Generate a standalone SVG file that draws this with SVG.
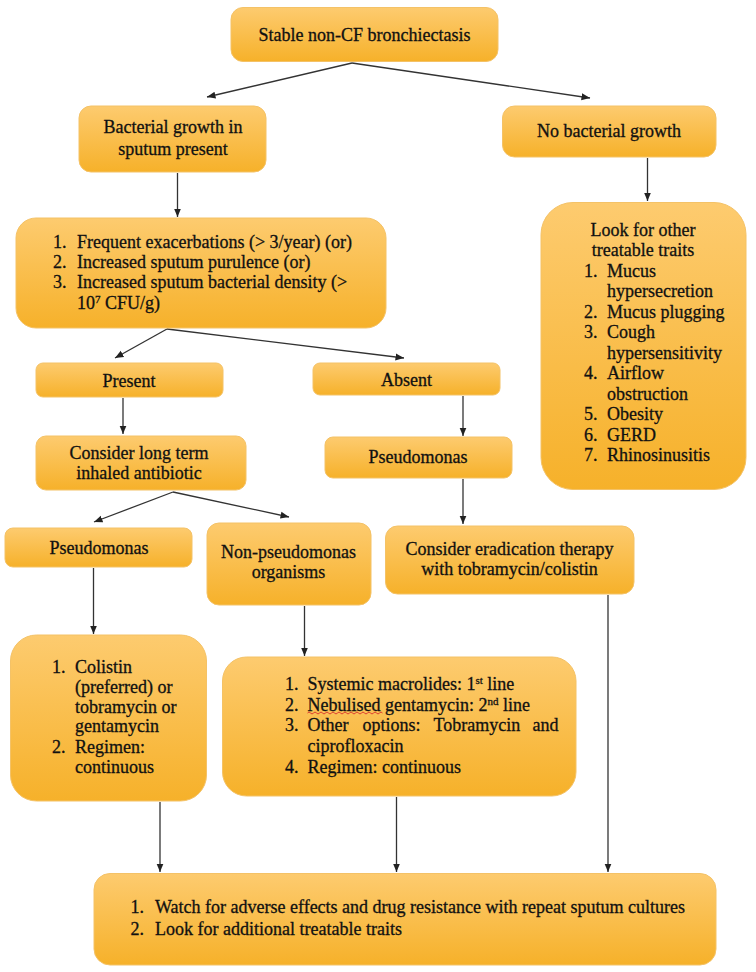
<svg xmlns="http://www.w3.org/2000/svg" width="756" height="972" viewBox="0 0 756 972">
<defs>
<linearGradient id="g" x1="0" y1="0" x2="0" y2="1">
<stop offset="0" stop-color="#FDCB6F"/>
<stop offset="1" stop-color="#F6B12A"/>
</linearGradient>
<marker id="ah" markerUnits="userSpaceOnUse" markerWidth="9" markerHeight="8" refX="8.5" refY="4" orient="auto">
<path d="M0,0.5 L8.5,4 L0,7.5 z" fill="#222"/>
</marker>
<style>
.box{fill:url(#g);stroke:#F4C267;stroke-width:1}
text{font-family:"Liberation Serif","Times New Roman",serif;font-size:18px;fill:#111;stroke:#111;stroke-width:0.3}
.c{text-anchor:middle}
.sup{font-size:11px}
.conn line{stroke:#333;stroke-width:1.3;marker-end:url(#ah)}
</style>
</defs>
<rect width="756" height="972" fill="#fff"/>

<g id="connectors" class="conn">
<line x1="352" y1="63" x2="207" y2="97"/>
<line x1="352" y1="63" x2="590" y2="98"/>
<line x1="177.5" y1="173" x2="177.5" y2="217"/>
<line x1="647.5" y1="158" x2="647.5" y2="201"/>
<line x1="167" y1="329" x2="115" y2="358"/>
<line x1="167" y1="329" x2="404" y2="358"/>
<line x1="123" y1="398" x2="123" y2="434"/>
<line x1="463" y1="396" x2="463" y2="436"/>
<line x1="173" y1="492" x2="94" y2="522"/>
<line x1="173" y1="492" x2="289" y2="517"/>
<line x1="463" y1="479" x2="463" y2="524"/>
<line x1="93.5" y1="568" x2="93.5" y2="634"/>
<line x1="304.5" y1="606" x2="304.5" y2="656"/>
<line x1="160" y1="802" x2="160" y2="872"/>
<line x1="396.5" y1="797" x2="396.5" y2="872"/>
<line x1="608" y1="595" x2="608" y2="872"/>
</g>

<g id="n-start">
<rect class="box" x="231" y="7.5" width="267" height="54" rx="12"/>
<text class="c" x="364.5" y="40.5">Stable non-CF bronchiectasis</text>
</g>

<g id="n-bacterial">
<rect class="box" x="79" y="106" width="187" height="66" rx="12"/>
<text class="c" x="173" y="133">Bacterial growth in</text>
<text class="c" x="173" y="155">sputum present</text>
</g>

<g id="n-nobacterial">
<rect class="box" x="502.5" y="106" width="213.5" height="51" rx="12"/>
<text class="c" x="609" y="137">No bacterial growth</text>
</g>

<g id="n-criteria">
<rect class="box" x="16" y="218" width="370" height="110" rx="20"/>
<text x="53" y="248">1.</text><text x="77" y="248">Frequent exacerbations (&gt; 3/year) (or)</text>
<text x="53" y="268">2.</text><text x="77" y="268">Increased sputum purulence (or)</text>
<text x="53" y="288">3.</text><text x="77" y="288">Increased sputum bacterial density (&gt;</text>
<text x="77" y="308.5">10<tspan class="sup" dy="-6">7</tspan><tspan dy="6"> CFU/g)</tspan></text>
</g>

<g id="n-traits">
<rect class="box" x="541" y="202.5" width="205" height="287" rx="32"/>
<text class="c" x="643" y="235.5">Look for other</text>
<text class="c" x="643" y="256">treatable traits</text>
<text x="584" y="276.5">1.</text><text x="607" y="276.5">Mucus</text>
<text x="607" y="297">hypersecretion</text>
<text x="584" y="317.5">2.</text><text x="607" y="317.5">Mucus plugging</text>
<text x="584" y="338">3.</text><text x="607" y="338">Cough</text>
<text x="607" y="358.5">hypersensitivity</text>
<text x="584" y="379">4.</text><text x="607" y="379">Airflow</text>
<text x="607" y="399.5">obstruction</text>
<text x="584" y="420">5.</text><text x="607" y="420">Obesity</text>
<text x="584" y="440.5">6.</text><text x="607" y="440.5">GERD</text>
<text x="584" y="461">7.</text><text x="607" y="461">Rhinosinusitis</text>
</g>

<g id="n-present">
<rect class="box" x="36" y="363" width="187" height="34" rx="7"/>
<text class="c" x="129" y="386.5">Present</text>
</g>

<g id="n-absent">
<rect class="box" x="313" y="363" width="187" height="32" rx="7"/>
<text class="c" x="406.5" y="386">Absent</text>
</g>

<g id="n-longterm">
<rect class="box" x="36" y="436" width="210" height="54" rx="10"/>
<text class="c" x="139" y="459">Consider long term</text>
<text class="c" x="139" y="479">inhaled antibiotic</text>
</g>

<g id="n-pseudo-r">
<rect class="box" x="325" y="437" width="187" height="41" rx="8"/>
<text class="c" x="418" y="463">Pseudomonas</text>
</g>

<g id="n-pseudo-l">
<rect class="box" x="5" y="528" width="187" height="39" rx="8"/>
<text class="c" x="99" y="554">Pseudomonas</text>
</g>

<g id="n-nonpseudo">
<rect class="box" x="207" y="523" width="164" height="82" rx="12"/>
<text class="c" x="288.5" y="558">Non-pseudomonas</text>
<text class="c" x="288.5" y="578">organisms</text>
</g>

<g id="n-eradication">
<rect class="box" x="385.5" y="526" width="248.5" height="68" rx="12"/>
<text class="c" x="509.5" y="555">Consider eradication therapy</text>
<text class="c" x="509.5" y="575">with tobramycin/colistin</text>
</g>

<g id="n-colistin">
<rect class="box" x="10.5" y="635" width="196" height="166" rx="26"/>
<text x="52" y="672.5">1.</text><text x="75" y="672.5">Colistin</text>
<text x="75" y="692.5">(preferred) or</text>
<text x="75" y="712.5">tobramycin or</text>
<text x="75" y="732">gentamycin</text>
<text x="52" y="753">2.</text><text x="75" y="753">Regimen:</text>
<text x="75" y="773">continuous</text>
</g>

<g id="n-macrolides">
<rect class="box" x="222.5" y="657" width="353.5" height="139" rx="24"/>
<text x="285" y="690">1.</text><text x="307.5" y="690">Systemic macrolides: 1<tspan class="sup" dy="-6">st</tspan><tspan dy="6"> line</tspan></text>
<text x="285" y="710.5">2.</text><text x="307.5" y="710.5">Nebulised gentamycin: 2<tspan class="sup" dy="-6">nd</tspan><tspan dy="6"> line</tspan></text>
<path d="M307.5,713 q1.5,-2 3,0 t3,0 t3,0 t3,0 t3,0 t3,0 t3,0 t3,0 t3,0 t3,0 t3,0 t3,0 t3,0 t3,0 t3,0 t3,0 t3,0 t3,0 t3,0 t3,0 t3,0 t3,0 t3,0 t3,0 t3,0" fill="none" stroke="#D9302C" stroke-width="0.9"/>
<text x="285" y="731">3.</text><text y="731"><tspan x="307.5">Other</tspan><tspan x="362.5">options:</tspan><tspan x="433.5">Tobramycin</tspan><tspan x="532.5">and</tspan></text>
<text x="307.5" y="751.5">ciprofloxacin</text>
<text x="285" y="772.5">4.</text><text x="307.5" y="772.5">Regimen: continuous</text>
</g>

<g id="n-watch">
<rect class="box" x="94" y="873.5" width="622" height="91.5" rx="16"/>
<text x="130.5" y="912.5">1.</text><text x="155" y="912.5">Watch for adverse effects and drug resistance with repeat sputum cultures</text>
<text x="130.5" y="935">2.</text><text x="155" y="935">Look for additional treatable traits</text>
</g>
</svg>
